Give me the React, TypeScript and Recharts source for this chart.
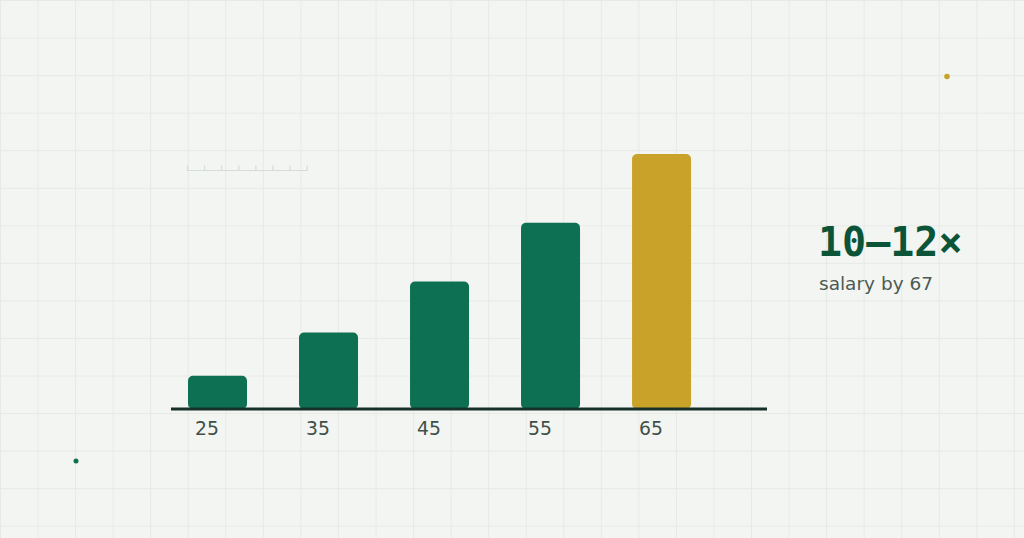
import { BarChart, Bar, XAxis, YAxis, Cell } from 'recharts';

// ages on the x axis and the salary multiple saved at each age
const AGES = [25, 35, 45, 55, 65];
const MULTIPLES = [1.3, 3, 5, 7.3, 10];
const HIGHLIGHT_AGE = 65;
const HEADLINE = '10–12×';
const SUBTITLE = 'salary by 67';

const data = AGES.map((age, i) => ({ age, multiple: MULTIPLES[i] }));

const W = 1024;
const H = 538;
const GRID = 37.55;

function Backdrop() {
  const xs = [];
  for (let x = 0; x <= W; x += GRID) xs.push(x);
  const ys = [];
  for (let y = 0; y <= H; y += GRID) ys.push(y);
  const rulerTicks = [0, 1, 2, 3, 4, 5, 6, 7];
  return (
    <svg width={W} height={H} style={{ position: 'absolute', left: 0, top: 0 }}>
      <rect width={W} height={H} fill="#f3f5f2" />
      {xs.map((x) => (
        <line key={`v${x}`} x1={x + 0.5} x2={x + 0.5} y1={0} y2={H} stroke="#e6eae5" strokeWidth={1} />
      ))}
      {ys.map((y) => (
        <line key={`h${y}`} x1={0} x2={W} y1={y + 0.5} y2={y + 0.5} stroke="#e6eae5" strokeWidth={1} />
      ))}
      <line x1={187} x2={307.5} y1={170.5} y2={170.5} stroke="#d5dbd6" strokeWidth={1.2} />
      {rulerTicks.map((i) => (
        <line
          key={`r${i}`}
          x1={187.5 + i * 17.1}
          x2={187.5 + i * 17.1}
          y1={165.5}
          y2={170.5}
          stroke="#d5dbd6"
          strokeWidth={1.2}
        />
      ))}
      <circle cx={947} cy={76.5} r={2.8} fill="#c9a22a" />
      <circle cx={76} cy={461} r={2.5} fill="#0e7052" />
    </svg>
  );
}

const AgeTick = ({ x, y, payload }) => (
  <text
    x={x - 22.5}
    y={y + 26}
    textAnchor="start"
    fill="#3f5049"
    fontSize={18.8}
    fontFamily="DejaVu Sans, sans-serif"
  >
    {payload.value}
  </text>
);

export default function App() {
  return (
    <div style={{ position: 'fixed', left: 0, top: 0, width: W, height: H, overflow: 'hidden' }}>
      <Backdrop />
      <div style={{ position: 'absolute', left: 0, top: 0 }}>
        <BarChart
          width={W}
          height={H}
          data={data}
          margin={{ top: 103, right: W - 767, bottom: 89, left: 171 }}
        >
          <XAxis
            dataKey="age"
            type="number"
            domain={[20.81, 74.5]}
            ticks={AGES}
            allowDataOverflow
            height={40}
            tickSize={0}
            tickMargin={0}
            tickLine={false}
            axisLine={{ stroke: '#17302a', strokeWidth: 3 }}
            tick={AgeTick}
          />
          <YAxis hide width={0} domain={[0, 12]} />
          <Bar dataKey="multiple" barSize={59} radius={5} isAnimationActive={false}>
            {data.map((d) => (
              <Cell key={d.age} fill={d.age === HIGHLIGHT_AGE ? '#c9a22a' : '#0e7052'} />
            ))}
          </Bar>
        </BarChart>
      </div>
      <div
        style={{
          position: 'absolute',
          left: 818,
          top: 218,
          fontFamily: 'DejaVu Sans Mono, monospace',
          fontWeight: 'bold',
          fontSize: 40,
          lineHeight: '48px',
          color: '#0b5437',
          whiteSpace: 'nowrap',
        }}
      >
        {HEADLINE}
      </div>
      <div
        style={{
          position: 'absolute',
          left: 819,
          top: 271,
          fontFamily: 'DejaVu Sans, sans-serif',
          fontSize: 18.5,
          lineHeight: '26px',
          color: '#4b5a53',
          whiteSpace: 'nowrap',
        }}
      >
        {SUBTITLE}
      </div>
    </div>
  );
}
